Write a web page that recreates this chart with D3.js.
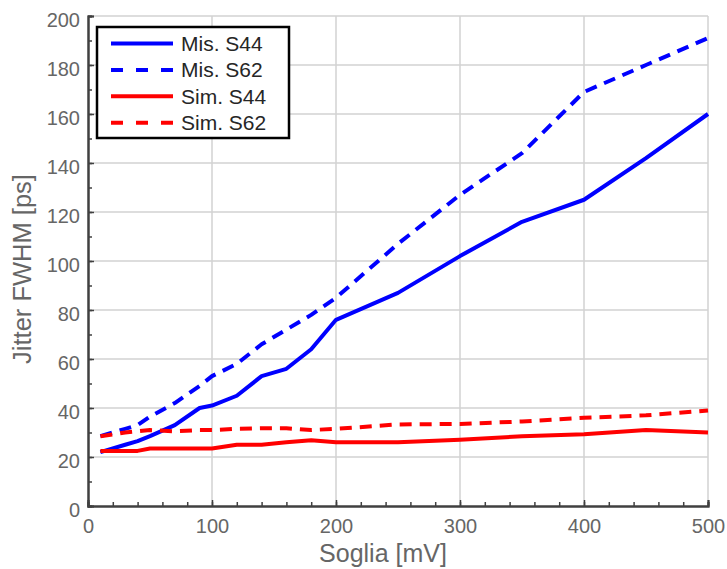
<!DOCTYPE html>
<html>
<head>
<meta charset="utf-8">
<script src="https://cdn.jsdelivr.net/npm/d3@7"></script>
<style>
  body { margin: 0; background: #fff; }
  text { font-family: "Liberation Sans", Arial, Helvetica, sans-serif; }
</style>
</head>
<body>
<div id="chart"></div>
<script>
// threshold values (mV)
var soglia = [10, 30, 40, 50, 70, 90, 100, 120, 140, 160, 180, 200, 250, 300, 350, 400, 450, 500];

// jitter FWHM (ps)
var misS44 = [22, 25, 26.5, 28.5, 33, 40, 41, 45, 53, 56, 64, 76, 87, 102, 116, 125, 142, 160];
var misS62 = [28.5, 31.5, 33, 36.5, 42, 49, 53, 58, 66, 72, 78, 85, 107, 127, 144, 169, 180, 191];
var simS44 = [22.5, 22.5, 22.5, 23.5, 23.5, 23.5, 23.5, 25, 25, 26, 26.8, 26, 26, 27, 28.5, 29.3, 31, 30];
var simS62 = [28.5, 30, 30.5, 31, 30.5, 31, 31, 31.5, 31.7, 31.7, 31, 31.5, 33.3, 33.5, 34.5, 36, 37, 39];

var xTicks = [0, 100, 200, 300, 400, 500];
var yTicks = [0, 20, 40, 60, 80, 100, 120, 140, 160, 180, 200];

var series = [
  { name: "Mis. S44", values: misS44, color: "#0000ff", dash: null },
  { name: "Mis. S62", values: misS62, color: "#0000ff", dash: "12,8" },
  { name: "Sim. S44", values: simS44, color: "#ff0000", dash: null },
  { name: "Sim. S62", values: simS62, color: "#ff0000", dash: "12,8" }
];

var margin = {top: 16, right: 19, bottom: 63, left: 88},
    width = 727 - margin.left - margin.right,
    height = 569 - margin.top - margin.bottom;

var svg = d3.select("#chart")
  .append("svg")
  .attr("width", 727)
  .attr("height", 569)
  .append("g")
  .attr("transform", "translate(" + margin.left + "," + margin.top + ")");

var x = d3.scaleLinear().domain([0, 500]).range([0, width]);
var y = d3.scaleLinear().domain([0, 200]).range([height, 0]);

// grid
svg.append("g")
  .selectAll("line.vg")
  .data(xTicks.slice(1))
  .enter()
  .append("line")
  .attr("x1", function(d) { return x(d); })
  .attr("x2", function(d) { return x(d); })
  .attr("y1", 0)
  .attr("y2", height)
  .style("stroke", "#d2d2d2")
  .style("stroke-width", 1.5);

svg.append("g")
  .selectAll("line.hg")
  .data(yTicks.slice(1))
  .enter()
  .append("line")
  .attr("y1", function(d) { return y(d); })
  .attr("y2", function(d) { return y(d); })
  .attr("x1", 0)
  .attr("x2", width)
  .style("stroke", "#d2d2d2")
  .style("stroke-width", 1.5);

// axes
var xAxis = svg.append("g")
  .attr("transform", "translate(0," + height + ")")
  .call(d3.axisBottom(x).tickValues(xTicks).tickSize(-6).tickPadding(13));

var xMinor = svg.append("g")
  .attr("transform", "translate(0," + height + ")")
  .call(d3.axisBottom(x).tickValues(d3.range(0, 501, 20)).tickSize(-4).tickFormat(""));

var yAxis = svg.append("g")
  .call(d3.axisLeft(y).tickValues(yTicks).tickSize(-6).tickPadding(8));

var yMinor = svg.append("g")
  .call(d3.axisLeft(y).tickValues(d3.range(0, 201, 10)).tickSize(-4).tickFormat(""));

[xAxis, xMinor, yAxis, yMinor].forEach(function(a) {
  a.select(".domain").style("stroke", "#404040").style("stroke-width", 2);
  a.selectAll(".tick line").style("stroke", "#404040").style("stroke-width", 1.5);
});

xAxis.selectAll(".tick text")
  .style("font-size", "20px")
  .style("fill", "#666")
  .style("font-family", "'Liberation Sans', Arial, sans-serif");

yAxis.selectAll(".tick text")
  .attr("dy", "0.5em")
  .style("font-size", "20px")
  .style("fill", "#666")
  .style("font-family", "'Liberation Sans', Arial, sans-serif");

// axis labels
svg.append("text")
  .attr("x", 295)
  .attr("y", height + 56)
  .attr("text-anchor", "middle")
  .style("font-size", "25px")
  .style("fill", "#666")
  .text("Soglia [mV]");

svg.append("text")
  .attr("transform", "translate(-57," + 253 + ") rotate(-90)")
  .attr("text-anchor", "middle")
  .style("font-size", "25.5px")
  .style("fill", "#666")
  .text("Jitter FWHM [ps]");

// lines
var line = d3.line()
  .x(function(d) { return x(d[0]); })
  .y(function(d) { return y(d[1]); });

series.forEach(function(s) {
  var pts = soglia.map(function(v, i) { return [v, s.values[i]]; });
  svg.append("path")
    .datum(pts)
    .attr("d", line)
    .style("fill", "none")
    .style("stroke", s.color)
    .style("stroke-width", 4)
    .style("stroke-linejoin", "round")
    .style("stroke-dasharray", s.dash);
});

// legend
var legend = svg.append("g").attr("transform", "translate(9,11)");

legend.append("rect")
  .attr("x", 0)
  .attr("y", 0)
  .attr("width", 192)
  .attr("height", 111)
  .style("fill", "#fff")
  .style("stroke", "#000")
  .style("stroke-width", 2.5);

var item = legend.selectAll("g.item")
  .data(series)
  .enter()
  .append("g")
  .attr("transform", function(d, i) { return "translate(0," + (16.5 + i * 26.4) + ")"; });

item.append("line")
  .attr("x1", 14)
  .attr("x2", 76)
  .attr("y1", 0)
  .attr("y2", 0)
  .style("stroke", function(d) { return d.color; })
  .style("stroke-width", 4)
  .style("stroke-dasharray", function(d) { return d.dash ? "12,13" : null; });

item.append("text")
  .attr("x", 84)
  .attr("y", 7.5)
  .style("font-size", "21px")
  .style("fill", "#262626")
  .text(function(d) { return d.name; });
</script>
</body>
</html>
